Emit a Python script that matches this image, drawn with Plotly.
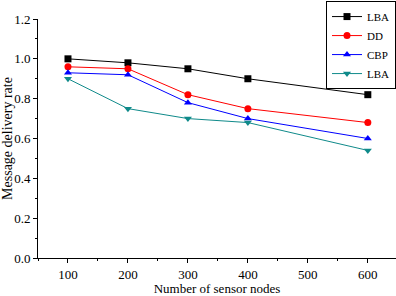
import plotly.graph_objects as go

nodes = [100, 200, 300, 400, 600]
lba1 = [1.00, 0.98, 0.95, 0.90, 0.82]
dd = [0.96, 0.95, 0.82, 0.75, 0.68]
cbp = [0.93, 0.92, 0.78, 0.70, 0.60]
lba2 = [0.90, 0.75, 0.70, 0.68, 0.54]

series = [
    ("LBA", lba1, "black", "square"),
    ("DD", dd, "red", "circle"),
    ("CBP", cbp, "blue", "triangle-up"),
    ("LBA", lba2, "#0f8a8a", "triangle-down"),
]

fig = go.Figure()
for name, vals, col, sym in series:
    fig.add_trace(go.Scatter(x=nodes, y=vals, name=name, mode="lines+markers",
                             line=dict(color=col, width=1),
                             marker=dict(color=col, symbol=sym, size=7)))

font = dict(family="Liberation Serif", size=13, color="black")
fig.update_layout(
    width=396, height=296, margin=dict(l=38, r=0, t=19, b=38),
    paper_bgcolor="white", plot_bgcolor="white", font=font,
    showlegend=True,
    legend=dict(x=1, xanchor="right", y=1.075, yanchor="top", bordercolor="black",
                borderwidth=1, bgcolor="white", font=dict(size=11),
                tracegroupgap=0, itemwidth=30),
)
fig.update_xaxes(range=[50, 647], tickvals=[100, 200, 300, 400, 500, 600],
                 showline=True, linecolor="black", linewidth=1, showgrid=False, zeroline=False,
                 ticks="outside", ticklen=4, tickcolor="black", tickfont=dict(size=13),
                 minor=dict(ticks="outside", ticklen=2, dtick=50, tick0=50, tickcolor="black"),
                 title=dict(text="Number of sensor nodes", standoff=2, font=dict(size=13)))
fig.update_yaxes(range=[0, 1.2], tickvals=[0, 0.2, 0.4, 0.6, 0.8, 1.0, 1.2],
                 ticktext=["0.0", "0.2", "0.4", "0.6", "0.8", "1.0", "1.2"],
                 showline=True, linecolor="black", linewidth=1, showgrid=False, zeroline=False,
                 ticks="outside", ticklen=4, tickcolor="black", tickfont=dict(size=13),
                 minor=dict(ticks="outside", ticklen=2, dtick=0.1, tickcolor="black"),
                 title=dict(text="Message delivery rate", standoff=2, font=dict(size=14)))
fig.write_html("out.html")
